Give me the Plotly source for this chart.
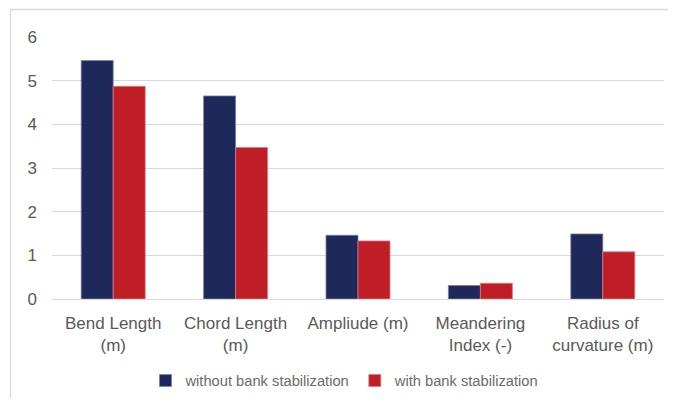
import plotly.graph_objects as go

categories = ["Bend Length<br>(m)", "Chord Length<br>(m)", "Ampliude (m)",
              "Meandering<br>Index (-)", "Radius of<br>curvature (m)"]
without_stab = [5.46, 4.65, 1.46, 0.31, 1.49]
with_stab = [4.87, 3.47, 1.33, 0.36, 1.08]
y_ticks = [0, 1, 2, 3, 4, 5, 6]

# the page has an 8px body margin on every side; keep the page exactly 676x406
OFF = 8
W, H = 676 - 2 * OFF, 406 - 2 * OFF
ML, MT = 52 - OFF, 37 - OFF
MR = W - (664 - OFF)
MB = H - (299 - OFF)
pw, ph = W - ML - MR, H - MT - MB

def px_x(p):  # screen px -> paper
    return (p - OFF - ML) / pw

def px_y(p):
    return (299 - p) / ph

fig = go.Figure()
fig.add_trace(go.Bar(x=categories, y=without_stab, name="without bank stabilization",
                     marker=dict(color="#1F285B", line=dict(color="#7C82A6", width=0.8))))
fig.add_trace(go.Bar(x=categories, y=with_stab, name="with bank stabilization",
                     marker=dict(color="#BF1E26", line=dict(color="#E07A80", width=0.8))))

font_family = "Liberation Sans, Arial, sans-serif"
fig.update_layout(
    width=W, height=H,
    margin=dict(l=ML, r=MR, t=MT, b=MB, autoexpand=False),
    paper_bgcolor="white", plot_bgcolor="white",
    barmode="group", bargap=0.477, bargroupgap=0,
    font=dict(family=font_family, color="#595959", size=17),
    showlegend=True,
    legend=dict(orientation="h", x=px_x(345), xanchor="center", y=px_y(381), yanchor="middle",
                font=dict(size=14.7, color="#6B6B6B"), itemwidth=30,
                traceorder="normal", bgcolor="rgba(0,0,0,0)"),
    xaxis=dict(showgrid=False, showline=False, zeroline=False, ticks="",
               ticklabelstandoff=12, automargin=False,
               tickfont=dict(size=17, color="#595959")),
    yaxis=dict(range=[0, 6], tickvals=y_ticks, showgrid=True, gridcolor="#D9D9D9",
               gridwidth=1.3, zeroline=True, zerolinecolor="#D9D9D9", zerolinewidth=1.3,
               showline=False, ticks="", ticklabelstandoff=14, automargin=False,
               tickfont=dict(size=17, color="#595959")),
    shapes=[
        dict(type="line", xref="paper", yref="paper",
             x0=px_x(10.5), x1=px_x(10.5), y0=px_y(406), y1=px_y(9.5),
             line=dict(color="#D9D9D9", width=1.3)),
        dict(type="line", xref="paper", yref="paper",
             x0=px_x(10.5), x1=px_x(676), y0=px_y(9.5), y1=px_y(9.5),
             line=dict(color="#D9D9D9", width=1.3)),
    ],
)

fig.write_html("out.html")
